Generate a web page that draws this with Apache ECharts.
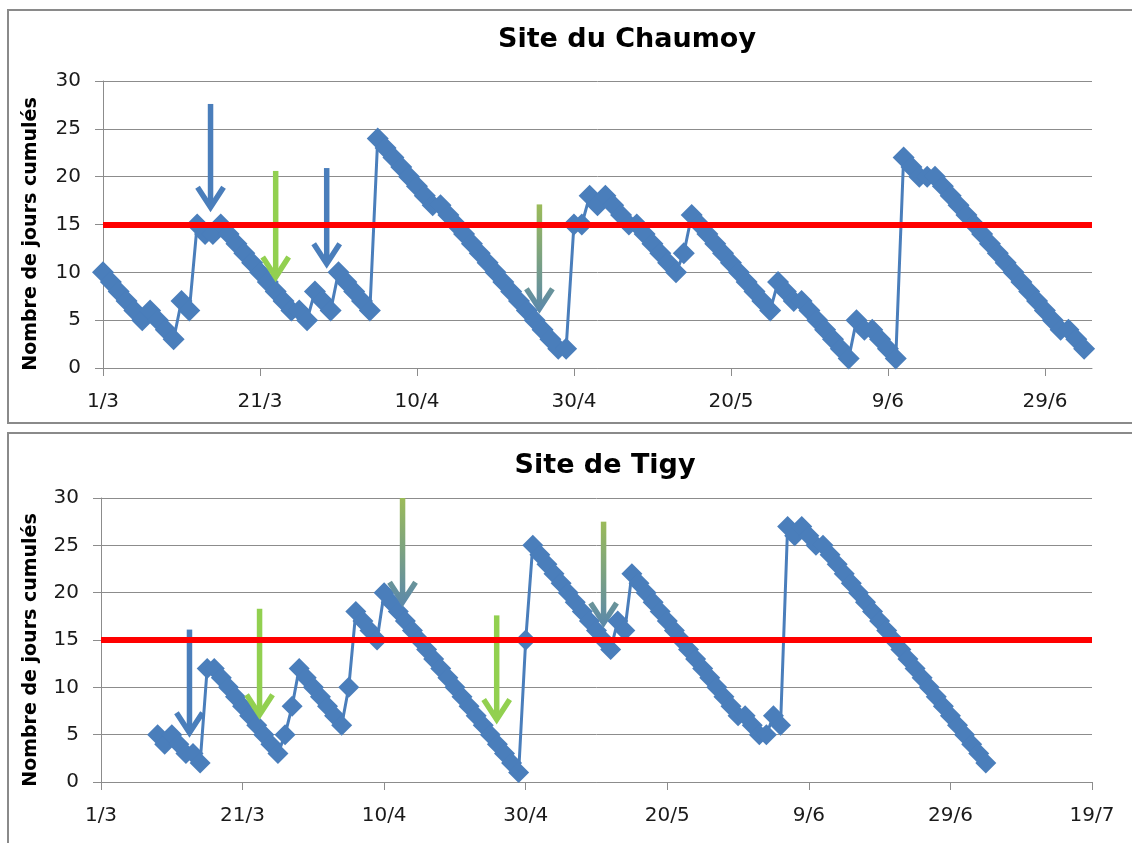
<!doctype html>
<html>
    <head>
        <meta charset="utf-8">
        <title>Sites du Chaumoy et de Tigy</title>
        <style>
            html, body { margin: 0; padding: 0; background: #fff; }
            #main { width: 1132px; height: 843px; }
        </style>
    </head>
    <body>
        <div id="main"></div>
        <script src="https://cdn.jsdelivr.net/npm/echarts@6/dist/echarts.min.js"></script>
        <script>
            // days are counted from 1 March (day 0)
            var chaumoyStart = 0;
            var chaumoyValues = [
                10, 9, 8, 7, 6, 5, 6, 5, 4, 3,
                7, 6, 15, 14, 14, 15, 14, 13, 12, 11,
                10, 9, 8, 7, 6, 6, 5, 8, 7, 6,
                10, 9, 8, 7, 6, 24, 23, 22, 21, 20,
                19, 18, 17, 17, 16, 15, 14, 13, 12, 11,
                10, 9, 8, 7, 6, 5, 4, 3, 2, 2,
                15, 15, 18, 17, 18, 17, 16, 15, 15, 14,
                13, 12, 11, 10, 12, 16, 15, 14, 13, 12,
                11, 10, 9, 8, 7, 6, 9, 8, 7, 7,
                6, 5, 4, 3, 2, 1, 5, 4, 4, 3,
                2, 1, 22, 21, 20, 20, 20, 19, 18, 17,
                16, 15, 14, 13, 12, 11, 10, 9, 8, 7,
                6, 5, 4, 4, 3, 2
            ];

            var tigyStart = 8;
            var tigyValues = [
                5, 4, 5, 4, 3, 3, 2,
                12, 12, 11, 10, 9, 8, 7, 6, 5, 4, 3,
                5, 8, 12, 11, 10, 9, 8, 7, 6,
                10, 18, 17, 16, 15,
                20, 19, 18, 17, 16, 15, 14, 13, 12, 11, 10, 9, 8, 7, 6, 5, 4, 3, 2, 1,
                15, 25, 24, 23, 22, 21, 20, 19, 18, 17, 16, 15, 14,
                17, 16,
                22, 21, 20, 19, 18, 17, 16, 15, 14, 13, 12, 11, 10, 9, 8, 7,
                7, 6, 5, 5, 7, 6,
                27, 26, 27, 26, 25, 25,
                24, 23, 22, 21, 20, 19, 18, 17, 16, 15, 14, 13, 12, 11, 10, 9, 8, 7, 6, 5, 4, 3, 2
            ];

            var threshold = 15;
            var yTicks = [0, 30, 5];
            var chaumoyXTicks = [0, 20, 40, 60, 80, 100, 120];
            var chaumoyXMax = 126;
            var tigyXMax = 140;

            // arrows: [day, top value, tip value, kind]  kind 0 blue, 1 green, 2 green->blue
            var chaumoyArrows = [
                [13.7, 27.6, 16.8, 0],
                [22.0, 20.6, 9.5, 1],
                [28.5, 20.9, 10.9, 0],
                [55.6, 17.1, 6.2, 2]
            ];
            var tigyArrows = [
                [12.5, 16.1, 5.2, 0],
                [22.4, 18.3, 7.1, 1],
                [42.6, 30.0, 19.0, 2],
                [55.9, 17.6, 6.6, 1],
                [71.0, 27.5, 16.8, 2]
            ];

            var BLUE = '#4a7ebb';
            var GREEN = '#92d050';
            var GRID = '#8c8c8c';
            var FONT = 'DejaVu Sans';

            function toPairs(start, values) {
                return values.map(function (v, i) {
                    return [start + i, v];
                });
            }

            function dayLabel(d) {
                var dt = new Date(2011, 2, 1 + d);
                return dt.getDate() + '/' + (dt.getMonth() + 1);
            }

            function renderArrow(params, api) {
                var x = api.value(0);
                var a = api.coord([x, api.value(1)]);
                var b = api.coord([x, api.value(2)]);
                var kind = api.value(3);
                var color = kind === 0 ? BLUE : kind === 1 ? GREEN :
                    new echarts.graphic.LinearGradient(0, a[1], 0, b[1], [
                        { offset: 0, color: '#9bbb59' },
                        { offset: 1, color: '#5d8aa8' }
                    ], true);
                var hw = 13, hh = 20;
                return {
                    type: 'group',
                    children: [{
                        type: 'line',
                        shape: { x1: a[0], y1: a[1], x2: b[0], y2: b[1] - 3 },
                        style: { stroke: color, lineWidth: 5.5 }
                    }, {
                        type: 'polyline',
                        shape: { points: [[b[0] - hw, b[1] - hh], [b[0], b[1]], [b[0] + hw, b[1] - hh]] },
                        style: { stroke: color, lineWidth: 5.5, fill: null }
                    }]
                };
            }

            function xAxisFor(gridIndex, max, ticks) {
                var axis = {
                    type: 'value',
                    gridIndex: gridIndex,
                    min: 0,
                    max: max,
                    interval: 20,
                    axisLine: { lineStyle: { color: GRID, width: 1 } },
                    axisTick: { show: true, length: 8, lineStyle: { color: GRID } },
                    axisLabel: {
                        color: '#1a1a1a', fontFamily: FONT, fontSize: 20, margin: 24,
                        formatter: dayLabel
                    },
                    splitLine: { show: false }
                };
                if (ticks) {
                    axis.axisTick.customValues = ticks;
                    axis.axisLabel.customValues = ticks;
                }
                return axis;
            }

            function yAxisFor(gridIndex) {
                return {
                    type: 'value',
                    gridIndex: gridIndex,
                    min: yTicks[0],
                    max: yTicks[1],
                    interval: yTicks[2],
                    axisLine: { show: true, lineStyle: { color: GRID, width: 1 } },
                    axisTick: { show: true, length: 8, lineStyle: { color: GRID } },
                    axisLabel: { color: '#1a1a1a', fontFamily: FONT, fontSize: 20, margin: 22 },
                    splitLine: { show: true, lineStyle: { color: GRID, width: 1 } }
                };
            }

            function siteSeries(idx, pairs, arrows, size) {
                return [{
                    type: 'line',
                    xAxisIndex: idx,
                    yAxisIndex: idx,
                    data: pairs,
                    z: 2,
                    symbol: 'diamond',
                    symbolSize: size,
                    showAllSymbol: true,
                    lineStyle: { color: BLUE, width: 3 },
                    itemStyle: { color: BLUE }
                }, {
                    type: 'custom',
                    xAxisIndex: idx,
                    yAxisIndex: idx,
                    z: 3,
                    clip: false,
                    renderItem: renderArrow,
                    data: arrows
                }, {
                    type: 'line',
                    xAxisIndex: idx,
                    yAxisIndex: idx,
                    data: [],
                    z: 4,
                    markLine: {
                        silent: true,
                        symbol: 'none',
                        label: { show: false },
                        lineStyle: { color: '#ff0000', width: 6, type: 'solid' },
                        data: [{ yAxis: threshold }]
                    }
                }];
            }

            var chart = echarts.init(document.getElementById('main'));

            chart.setOption({
                animation: false,
                backgroundColor: '#ffffff',
                grid: [
                    { left: 103, top: 81, width: 989, height: 287 },
                    { left: 101, top: 498, width: 991, height: 284 }
                ],
                xAxis: [
                    xAxisFor(0, chaumoyXMax, chaumoyXTicks),
                    xAxisFor(1, tigyXMax, null)
                ],
                yAxis: [yAxisFor(0), yAxisFor(1)],
                graphic: [
                    {
                        type: 'rect', silent: true,
                        shape: { x: 8, y: 10, width: 1140, height: 413 },
                        style: { fill: null, stroke: '#8a8a8a', lineWidth: 2 }
                    },
                    {
                        type: 'rect', silent: true,
                        shape: { x: 8, y: 433, width: 1140, height: 430 },
                        style: { fill: null, stroke: '#8a8a8a', lineWidth: 2 }
                    },
                    {
                        type: 'text', x: 627, y: 40,
                        style: {
                            text: 'Site du Chaumoy', fill: '#000', font: 'bold 27px "DejaVu Sans"',
                            textAlign: 'center', textVerticalAlign: 'middle'
                        }
                    },
                    {
                        type: 'text', x: 605, y: 466,
                        style: {
                            text: 'Site de Tigy', fill: '#000', font: 'bold 27px "DejaVu Sans"',
                            textAlign: 'center', textVerticalAlign: 'middle'
                        }
                    },
                    {
                        type: 'text', x: 31, y: 234, rotation: Math.PI / 2,
                        style: {
                            text: 'Nombre de jours cumulés', fill: '#000', font: 'bold 19px "DejaVu Sans"',
                            textAlign: 'center', textVerticalAlign: 'middle'
                        }
                    },
                    {
                        type: 'text', x: 31, y: 650, rotation: Math.PI / 2,
                        style: {
                            text: 'Nombre de jours cumulés', fill: '#000', font: 'bold 19px "DejaVu Sans"',
                            textAlign: 'center', textVerticalAlign: 'middle'
                        }
                    }
                ],
                series: [].concat(
                    siteSeries(0, toPairs(chaumoyStart, chaumoyValues), chaumoyArrows, 22),
                    siteSeries(1, toPairs(tigyStart, tigyValues), tigyArrows, 21)
                )
            });

            window.addEventListener('resize', function () {
                chart.resize();
            });
        </script>
    </body>
</html>
